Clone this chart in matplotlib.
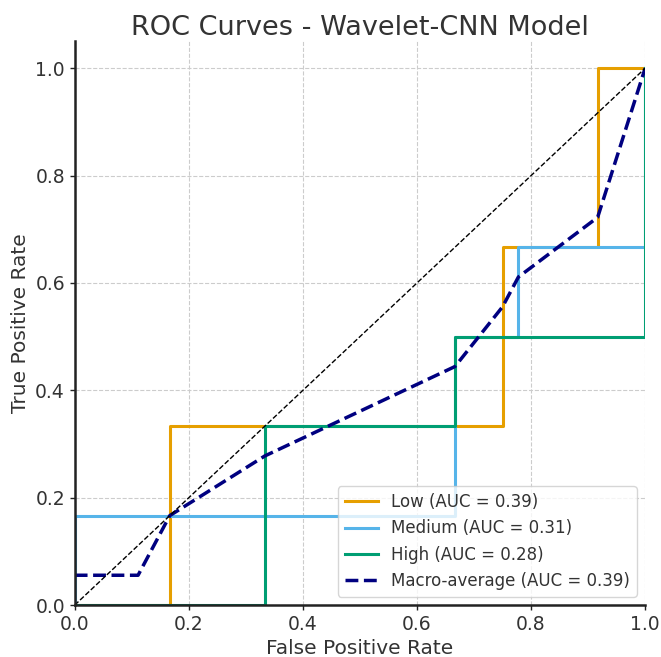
import matplotlib
matplotlib.use("Agg")
import matplotlib.pyplot as plt

# Data
low_fpr = [0.0, 0.1667, 0.1667, 0.75, 0.75, 0.9167, 0.9167, 1.0]
low_tpr = [0.0, 0.0, 0.3333, 0.3333, 0.6667, 0.6667, 1.0, 1.0]
med_fpr = [0.0, 0.0, 0.6667, 0.6667, 0.7778, 0.7778, 1.0, 1.0]
med_tpr = [0.0, 0.1667, 0.1667, 0.5, 0.5, 0.6667, 0.6667, 1.0]
high_fpr = [0.0, 0.3333, 0.3333, 0.6667, 0.6667, 1.0, 1.0]
high_tpr = [0.0, 0.0, 0.3333, 0.3333, 0.5, 0.5, 1.0]
macro_fpr = [0.0, 0.1111, 0.1667, 0.3333, 0.6667, 0.75, 0.7778, 0.9167, 1.0]
macro_tpr = [0.0556, 0.0556, 0.1667, 0.2778, 0.4444, 0.5556, 0.6111, 0.7222, 1.0]
labels = ["Low (AUC = 0.39)", "Medium (AUC = 0.31)", "High (AUC = 0.28)",
          "Macro-average (AUC = 0.39)"]
colors = ["#E69F00", "#56B4E9", "#009E73"]
ticks = [0.0, 0.2, 0.4, 0.6, 0.8, 1.0]

plt.rcParams['font.family'] = ['DejaVu Sans']
fig = plt.figure(figsize=(6.61, 6.57), dpi=100)
ax = fig.add_axes([0.113, 0.079, 0.863, 0.858])

ax.plot(low_fpr, low_tpr, color=colors[0], lw=2.2, label=labels[0])
ax.plot(med_fpr, med_tpr, color=colors[1], lw=2.2, label=labels[1])
ax.plot(high_fpr, high_tpr, color=colors[2], lw=2.2, label=labels[2])
ax.plot(macro_fpr, macro_tpr, color="navy", lw=2.5, linestyle="--",
        label=labels[3])
ax.plot([0, 1], [0, 1], color="black", lw=1, linestyle="--")

ax.set_xlim(0, 1.0)
ax.set_ylim(0, 1.05)
ax.set_xticks(ticks)
ax.set_yticks(ticks)
ax.grid(True, linestyle="--", color="#cccccc", lw=0.8)
ax.set_axisbelow(True)
for s in ["top", "right"]:
    ax.spines[s].set_visible(False)
for s in ["left", "bottom"]:
    ax.spines[s].set_linewidth(1.8)
    ax.spines[s].set_color("#222222")
ax.tick_params(labelsize=13.5, colors="#222222", labelcolor="#333333", width=1)
ax.set_xlabel("False Positive Rate", fontsize=14.5, color="#333333")
ax.set_ylabel("True Positive Rate", fontsize=14.5, color="#333333")
ax.set_title("ROC Curves - Wavelet-CNN Model", fontsize=19.5, color="#333333",
             pad=4)
leg = ax.legend(loc="lower right", fontsize=12)
for t in leg.get_texts():
    t.set_color("#333333")

fig.savefig("out.png", dpi=100)
